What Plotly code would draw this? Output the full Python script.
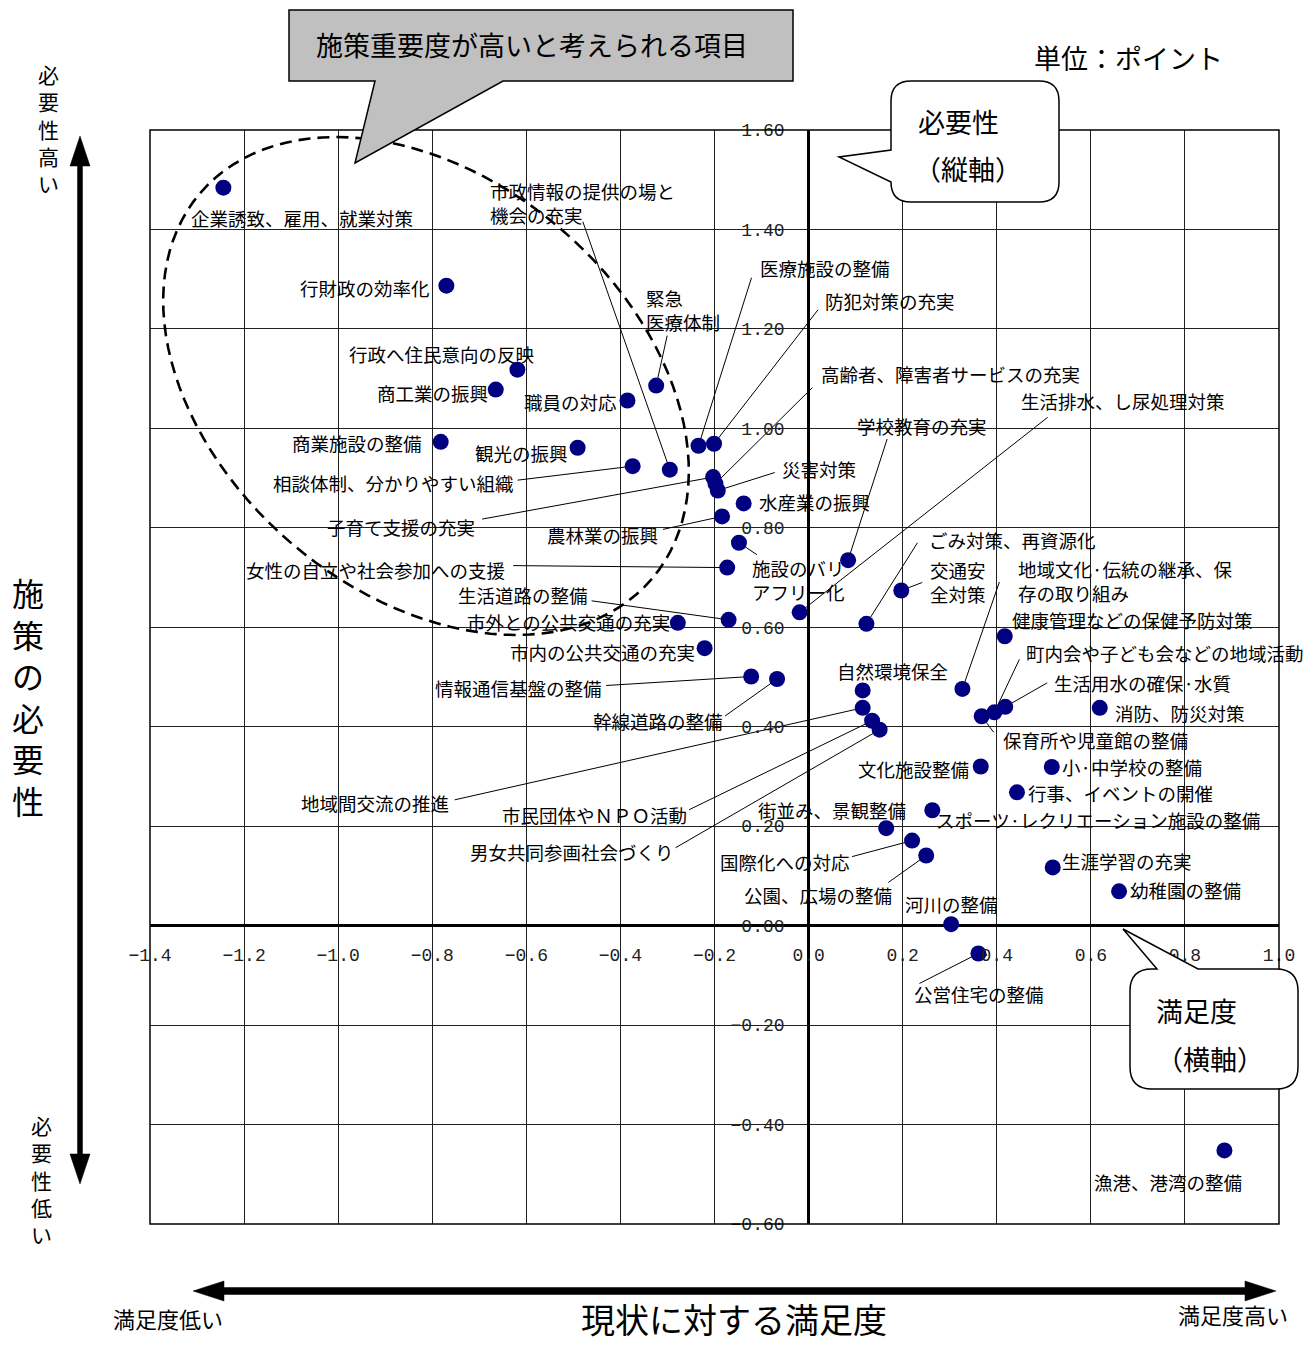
import numpy as np
import plotly.graph_objects as go

# ---------------- data ----------------
items = [
    "企業誘致、雇用、就業対策", "行財政の効率化", "行政へ住民意向の反映", "商工業の振興",
    "緊急医療体制", "職員の対応", "商業施設の整備", "観光の振興", "医療施設の整備",
    "防犯対策の充実", "相談体制、分かりやすい組織", "市政情報の提供の場と機会の充実",
    "子育て支援の充実", "高齢者、障害者サービスの充実", "災害対策", "水産業の振興",
    "農林業の振興", "施設のバリアフリー化", "女性の自立や社会参加への支援", "学校教育の充実",
    "生活排水、し尿処理対策", "生活道路の整備", "市外との公共交通の充実", "市内の公共交通の充実",
    "ごみ対策、再資源化", "交通安全対策", "情報通信基盤の整備", "幹線道路の整備",
    "自然環境保全", "地域間交流の推進", "市民団体やＮＰＯ活動", "男女共同参画社会づくり",
    "地域文化·伝統の継承、保存の取り組み", "健康管理などの保健予防対策", "保育所や児童館の整備",
    "町内会や子ども会などの地域活動", "生活用水の確保·水質", "消防、防災対策", "文化施設整備",
    "小·中学校の整備", "行事、イベントの開催", "スポーツ·レクリエーション施設の整備",
    "街並み、景観整備", "国際化への対応", "公園、広場の整備", "生涯学習の充実",
    "幼稚園の整備", "河川の整備", "公営住宅の整備", "漁港、港湾の整備",
]
satisfaction = [
    -1.244, -0.770, -0.619, -0.665,
    -0.324, -0.385, -0.782, -0.491, -0.234,
    -0.201, -0.374, -0.295,
    -0.203, -0.198, -0.193, -0.138,
    -0.184, -0.148, -0.173, 0.084,
    -0.019, -0.170, -0.278, -0.221,
    0.123, 0.197, -0.122, -0.067,
    0.115, 0.115, 0.135, 0.151,
    0.327, 0.417, 0.368,
    0.395, 0.418, 0.619, 0.366,
    0.517, 0.443, 0.263,
    0.165, 0.220, 0.250, 0.519,
    0.660, 0.303, 0.361, 0.884,
]
necessity = [
    1.484, 1.287, 1.118, 1.078,
    1.086, 1.056, 0.973, 0.961, 0.965,
    0.969, 0.924, 0.917,
    0.902, 0.889, 0.875, 0.849,
    0.823, 0.770, 0.720, 0.735,
    0.630, 0.615, 0.609, 0.558,
    0.607, 0.674, 0.501, 0.496,
    0.473, 0.438, 0.412, 0.394,
    0.476, 0.582, 0.421,
    0.429, 0.440, 0.438, 0.320,
    0.319, 0.268, 0.232,
    0.196, 0.171, 0.141, 0.117,
    0.069, 0.003, -0.056, -0.452,
]

# ---------------- layout constants ----------------
W, H = 1315, 1346
ML, MR, MT, MB = 150, 36, 130, 122
XR = (-1.4, 1.0)
YR = (-0.6, 1.6)
PW, PH = W - ML - MR, H - MT - MB
JP = "Noto Sans CJK JP"
LABEL_SIZE = 18.5

# label placement: pixel offset of the label from its point, anchor,
# optional leader-line start (pixel offset), optional display text
LABELS = {
    "企業誘致、雇用、就業対策": (-34, 30, "left", None, None),
    "行財政の効率化": (-14, 2, "right", None, None),
    "行政へ住民意向の反映": (-76, -16, "center", None, None),
    "商工業の振興": (-6, 3, "right", None, None),
    "緊急医療体制": (-12, -76, "left", (11, -50), "緊急<br>医療体制"),
    "職員の対応": (-8, 1, "right", None, None),
    "商業施設の整備": (-17, 1, "right", None, None),
    "観光の振興": (-8, 5, "right", None, None),
    "医療施設の整備": (59, -178, "left", (53, -168), None),
    "防犯対策の充実": (109, -143, "left", (104, -134), None),
    "相談体制、分かりやすい組織": (-117, 17, "right", (-115, 14), None),
    "市政情報の提供の場と機会の充実": (-182, -267, "left", (-87, -248), "市政情報の提供の場と<br>機会の充実"),
    "子育て支援の充実": (-236, 50, "right", (-231, 42), None),
    "高齢者、障害者サービスの充実": (104, -110, "left", (97, -96), None),
    "災害対策": (62, -22, "left", (57, -18), None),
    "水産業の振興": (13, -1, "left", None, None),
    "農林業の振興": (-62, 19, "right", (-59, 13), None),
    "施設のバリアフリー化": (11, 37, "left", (18, 12), "施設のバリ<br>アフリー化"),
    "女性の自立や社会参加への支援": (-220, 2, "right", (-214, -2), None),
    "学校教育の充実": (7, -134, "left", (39, -121), None),
    "生活排水、し尿処理対策": (219, -211, "left", (248, -195), None),
    "生活道路の整備": (-139, -25, "right", (-137, -19), None),
    "市外との公共交通の充実": (-6, -1, "right", None, None),
    "市内の公共交通の充実": (-8, 4, "right", None, None),
    "ごみ対策、再資源化": (61, -84, "left", (51, -81), None),
    "交通安全対策": (27, -8, "left", (21, -8), "交通安<br>全対策"),
    "情報通信基盤の整備": (-147, 11, "right", (-145, 9), None),
    "幹線道路の整備": (-52, 42, "right", (-52, 37), None),
    "自然環境保全": (30, -19, "center", None, None),
    "地域間交流の推進": (-412, 95, "right", (-408, 92), None),
    "市民団体やＮＰＯ活動": (-183, 94, "right", (-183, 89), None),
    "男女共同参画社会づくり": (-204, 122, "right", (-204, 118), None),
    "地域文化·伝統の継承、保存の取り組み": (54, -108, "left", (37, -107), "地域文化·伝統の継承、保<br>存の取り組み"),
    "健康管理などの保健予防対策": (5, -16, "left", None, None),
    "保育所や児童館の整備": (19, 24, "left", (12, 16), None),
    "町内会や子ども会などの地域活動": (30, -59, "left", (25, -53), None),
    "生活用水の確保·水質": (47, -24, "left", (42, -24), None),
    "消防、防災対策": (13, 5, "left", None, None),
    "文化施設整備": (-10, 2, "right", None, None),
    "小·中学校の整備": (8, 0, "left", None, None),
    "行事、イベントの開催": (9, 1, "left", None, None),
    "スポーツ·レクリエーション施設の整備": (2, 10, "left", None, None),
    "街並み、景観整備": (22, -18, "right", None, None),
    "国際化への対応": (-60, 21, "right", (-60, 16), None),
    "公園、広場の整備": (-32, 39, "right", (-38, 27), None),
    "生涯学習の充実": (7, -6, "left", None, None),
    "幼稚園の整備": (9, -1, "left", None, None),
    "河川の整備": (-48, -20, "left", None, None),
    "公営住宅の整備": (-66, 41, "left", (-59, 30), None),
    "漁港、港湾の整備": (-132, 32, "left", None, None),
}


def pp(px, py):
    """page pixel -> paper coords"""
    return ((px - ML) / PW, (H - MB - py) / PH)


def pd(px, py):
    fx, fy = pp(px, py)
    return (XR[0] + fx * (XR[1] - XR[0]), YR[0] + fy * (YR[1] - YR[0]))


def path_from(points, conv, close=True):
    s = ""
    for cmd, pts in points:
        coords = " ".join("%.5f,%.5f" % conv(*p) for p in pts)
        s += "%s %s " % (cmd, coords)
    return s + ("Z" if close else "")


fig = go.Figure()

fig.add_trace(go.Scatter(
    x=satisfaction, y=necessity, mode="markers", text=items,
    hoverinfo="text+x+y",
    marker=dict(color="#000080", size=16, line=dict(width=0)),
    showlegend=False,
))

shapes = []
annotations = []

# plot border
shapes.append(dict(type="rect", xref="paper", yref="paper", x0=0, y0=0, x1=1, y1=1,
                   line=dict(color="black", width=1.5), layer="above"))

# dashed ellipse (pixel geometry)
cx, cy, a, b, th = 426, 386, 297, 207, np.deg2rad(40.5)
t = np.linspace(0, 2 * np.pi, 121)
ex = cx + a * np.cos(t) * np.cos(th) - b * np.sin(t) * np.sin(th)
ey = cy + a * np.cos(t) * np.sin(th) + b * np.sin(t) * np.cos(th)
epath = "M " + " L ".join("%.5f,%.5f" % pd(x, y) for x, y in zip(ex, ey)) + " Z"
shapes.append(dict(type="path", xref="x", yref="y", path=epath,
                   line=dict(color="black", width=2.6, dash="12px,7px"), layer="above"))

# gray callout
gp = [("M", [(289, 10)]), ("L", [(793, 10)]), ("L", [(793, 81)]), ("L", [(503, 81)]),
      ("L", [(355, 163)]), ("L", [(375, 81)]), ("L", [(289, 81)])]
shapes.append(dict(type="path", xref="paper", yref="paper", path=path_from(gp, pp),
                   fillcolor="#c0c0c0", line=dict(color="black", width=1.5), layer="above"))

# 必要性 callout (rounded)
r = 20
np1 = [("M", [(891 + r, 81)]), ("L", [(1059 - r, 81)]), ("Q", [(1059, 81), (1059, 81 + r)]),
       ("L", [(1059, 202 - r)]), ("Q", [(1059, 202), (1059 - r, 202)]), ("L", [(891 + r, 202)]),
       ("Q", [(891, 202), (891, 202 - r)]), ("L", [(839, 157)]), ("L", [(891, 150)]),
       ("L", [(891, 81 + r)]), ("Q", [(891, 81), (891 + r, 81)])]
shapes.append(dict(type="path", xref="paper", yref="paper", path=path_from(np1, pp),
                   fillcolor="white", line=dict(color="black", width=1.5), layer="above"))

# 満足度 callout (rounded)
r = 22
sp = [("M", [(1130, 969 + r)]), ("Q", [(1130, 969), (1130 + r, 969)]), ("L", [(1157, 969)]),
      ("L", [(1123, 929)]), ("L", [(1198, 969)]), ("L", [(1298 - r, 969)]),
      ("Q", [(1298, 969), (1298, 969 + r)]), ("L", [(1298, 1089 - r)]),
      ("Q", [(1298, 1089), (1298 - r, 1089)]), ("L", [(1130 + r, 1089)]),
      ("Q", [(1130, 1089), (1130, 1089 - r)])]
shapes.append(dict(type="path", xref="paper", yref="paper", path=path_from(sp, pp),
                   fillcolor="white", line=dict(color="black", width=1.5), layer="above"))

# vertical double arrow
va = [("M", [(80, 136)]), ("L", [(90, 166)]), ("L", [(82.5, 166)]), ("L", [(82.5, 1154)]),
      ("L", [(90, 1154)]), ("L", [(80, 1184)]), ("L", [(70, 1154)]), ("L", [(77.5, 1154)]),
      ("L", [(77.5, 166)]), ("L", [(70, 166)])]
shapes.append(dict(type="path", xref="paper", yref="paper", path=path_from(va, pp),
                   fillcolor="black", line=dict(color="black", width=0.5), layer="above"))

# horizontal double arrow
ha = [("M", [(193, 1291)]), ("L", [(224, 1281)]), ("L", [(224, 1287.5)]), ("L", [(1245, 1287.5)]),
      ("L", [(1245, 1281)]), ("L", [(1276, 1291)]), ("L", [(1245, 1301)]), ("L", [(1245, 1294.5)]),
      ("L", [(224, 1294.5)]), ("L", [(224, 1301)])]
shapes.append(dict(type="path", xref="paper", yref="paper", path=path_from(ha, pp),
                   fillcolor="black", line=dict(color="black", width=0.5), layer="above"))

# point labels and leader lines
for name, x, y in zip(items, satisfaction, necessity):
    dx, dy, anc, line, disp = LABELS[name]
    annotations.append(dict(x=x, y=y, xref="x", yref="y", text=disp or name, showarrow=False,
                            xanchor=anc, yanchor="middle", xshift=dx, yshift=-dy, align="left",
                            font=dict(family=JP, size=LABEL_SIZE, color="black")))
    if line:
        shapes.append(dict(type="line", xref="x", yref="y", xsizemode="pixel", ysizemode="pixel",
                           xanchor=x, yanchor=y, x0=0, y0=0, x1=line[0], y1=-line[1],
                           line=dict(color="black", width=1), layer="between"))


def txt(px, py, s, size, anchor="center"):
    fx, fy = pp(px, py)
    annotations.append(dict(x=fx, y=fy, xref="paper", yref="paper", text=s, showarrow=False,
                            xanchor=anchor, yanchor="middle",
                            font=dict(family=JP, size=size, color="black")))


txt(532, 45, "施策重要度が高いと考えられる項目", 27)
txt(1128, 58, "単位：ポイント", 27)
txt(958, 121, "必要性", 27)
txt(968, 168, "（縦軸）", 27)
txt(1196, 1010, "満足度", 27)
txt(1210, 1058, "（横軸）", 27)
txt(48, 128, "<br>".join("必要性高い"), 21)
txt(28, 696, "<br>".join("施策の必要性"), 32)
txt(41, 1179, "<br>".join("必要性低い"), 21)
txt(168, 1318, "満足度低い", 22)
txt(1233, 1314, "満足度高い", 22)
txt(734, 1318, "現状に対する満足度", 34)

tickfont = dict(family="Liberation Mono", size=18, color="#222")
fig.update_layout(
    width=W, height=H,
    margin=dict(l=ML, r=MR, t=MT, b=MB, autoexpand=False),
    paper_bgcolor="white", plot_bgcolor="white",
    shapes=shapes, annotations=annotations,
    xaxis=dict(range=list(XR), dtick=0.2, tick0=0, tickformat=".1f", showgrid=True,
               gridcolor="#202020", gridwidth=1, zeroline=True, zerolinecolor="black",
               zerolinewidth=2.5, showline=False, ticks="", anchor="free",
               position=(0 - YR[0]) / (YR[1] - YR[0]), ticklabelstandoff=16,
               tickfont=tickfont, automargin=False, fixedrange=True),
    yaxis=dict(range=list(YR), dtick=0.2, tick0=0, tickformat=".2f", showgrid=True,
               gridcolor="#202020", gridwidth=1, zeroline=True, zerolinecolor="black",
               zerolinewidth=2.5, showline=False, ticks="", anchor="free",
               position=(0 - XR[0]) / (XR[1] - XR[0]), ticklabelstandoff=24,
               tickfont=tickfont, automargin=False, fixedrange=True),
    showlegend=False,
)

fig.write_html("out.html", config={"displayModeBar": False},
               post_script="document.body.style.margin='0px';")
